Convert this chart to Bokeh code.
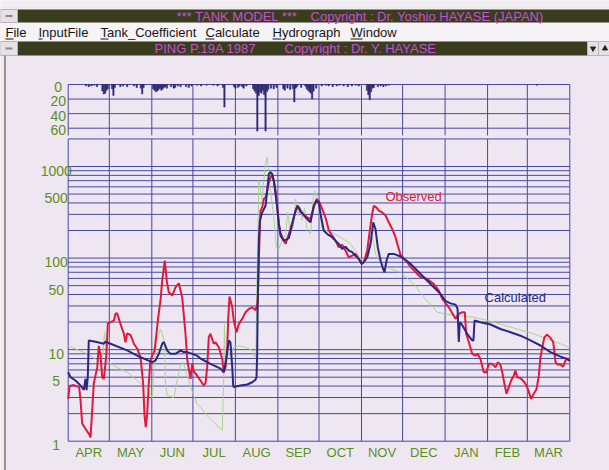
from bokeh.plotting import figure
from bokeh.models import Range1d, LinearScale
from bokeh.core.properties import value
from bokeh.embed import file_html
from bokeh.resources import INLINE

# ---------------------------------------------------------------- data
# hydrological year 1987/88, day index counted from 1 April 1987
month_names = ["APR", "MAY", "JUN", "JUL", "AUG", "SEP", "OCT", "NOV", "DEC", "JAN", "FEB", "MAR"]
month_starts = [0, 30, 61, 91, 122, 153, 183, 214, 244, 275, 306, 335, 366]

flow_ticks = [1, 5, 10, 50, 100, 500, 1000]
rain_ticks = [0, 20, 40, 60]

# daily rainfall (mm)
rain_day = [13, 15, 17, 19, 21, 25, 26, 27, 28, 29, 32, 33, 34, 38, 40, 43, 48, 50, 53, 54, 55,
            62, 63, 64, 65, 66, 67, 68, 69, 70, 71, 72, 75, 77, 78, 80, 82, 86, 88, 90, 94, 97, 101,
            106, 109, 113, 114, 121, 122, 124, 125, 127, 128, 130, 135, 136, 137, 138, 139, 140, 141,
            142, 143, 144, 145, 146, 148, 150, 152, 157, 158, 160, 162, 164, 165, 166, 167, 170, 173,
            174, 175, 176, 177, 178, 179, 181, 185, 188, 190, 193, 196, 198, 201, 204, 207, 210, 212,
            218, 219, 220, 221, 222, 223, 226, 228, 230, 232, 234, 342]
rain_mm = [2, 3, 2, 1, 3, 9, 13, 12, 8, 6, 6, 15, 4, 3, 2, 3, 2, 4, 5, 13, 4,
           6, 8, 10, 9, 7, 5, 8, 6, 4, 3, 5, 3, 5, 4, 2, 3, 3, 4, 2, 1, 2, 1,
           1, 2, 4, 31, 3, 5, 4, 2, 3, 5, 2, 6, 9, 12, 64, 15, 10, 12,
           8, 14, 64, 10, 7, 5, 6, 4, 6, 8, 5, 7, 6, 24, 5, 3, 4, 2,
           6, 8, 10, 12, 20, 9, 5, 2, 1, 2, 3, 2, 1, 2, 3, 2, 1, 2,
           8, 14, 21, 10, 5, 4, 3, 2, 3, 2, 1, 1]

# observed discharge
obs_day = [0, 1, 4, 8, 9, 10.2, 12.6, 15, 16.3, 18.7,
           21.2, 22.3, 23.6, 24.8, 26, 27.9, 28.9, 30.9, 33.3, 34.5,
           35.7, 38.2, 40.6, 41.8, 43, 45.5, 47.9, 50.3, 52.8, 54.7,
           55.7, 56.6, 57.6, 58.8, 60, 61.3, 63, 64.4, 65.7, 67.3,
           68.6, 70.5, 72, 73.4, 75.9, 78.3, 80.7, 83.2, 85.6, 86.8,
           89.2, 90.5, 91.6, 94.1, 96.5, 98.9, 100.2, 101.4, 102.6, 103.8,
           106.2, 107.5, 109.9, 112.4, 113.5, 114.8, 116, 116.7, 117.7, 119.7,
           120.8, 122.8, 124.5, 127, 129.4, 131.8, 134.3, 136.7, 138.3, 139.5,
           140.3, 141.6, 142.7, 144, 145.2, 146.4, 147.6, 148.8, 150, 151.3,
           152.5, 153.7, 154.9, 157.3, 158.6, 160.2, 162.2, 164.6, 167.1, 169.5,
           171.9, 174.4, 176.8, 179.2, 181.2, 182.9, 185.3, 187.7, 190.2, 192.6,
           195, 197.4, 199.9, 202.3, 204.7, 207.2, 209.6, 212, 214.5, 215.7,
           218.2, 220.1, 221.8, 223, 225, 226.6, 229.1, 231.5, 233.9, 236.4,
           238.8, 242.5, 246.2, 249.9, 254.7, 257.1, 262, 266.8, 270.4, 272.9,
           274.1, 277.7, 282.6, 285, 287.5, 289.4, 290.4, 292.3, 294.8, 297.2,
           298.8, 300.8, 303.2, 305.2, 306.9, 309.4, 311.8, 313.5, 315.4, 316.7,
           318.3, 319.8, 321.5, 323.2, 325.1, 326.3, 327.6, 330, 332.9, 334.9,
           337.8, 339.7, 341.7, 343.4, 344.6, 345.9, 347.5, 349.5, 351.9, 353.9,
           355.6, 357, 359.2, 361.1, 362.8, 365.2]
obs_flow = [2.9, 4.0, 4.1, 3.9, 2.8, 1.56, 1.37, 1.21, 1.1, 4.3,
            6.4, 11, 8.6, 5.0, 4.8, 9.0, 19.3, 20, 20.7, 24.7,
            25, 19, 15, 12, 15, 14.5, 11.6, 10.3, 8.25, 4.25,
            1.9, 1.42, 1.95, 4.25, 7.6, 8.6, 9.7, 15, 22.6, 34,
            56.6, 94, 55, 42.4, 39, 48, 53, 37, 14.9, 7.9,
            4.8, 7.0, 5.8, 5.2, 4.6, 4.06, 4.3, 6.4, 13.7, 14.9,
            11.6, 12, 10.6, 7.9, 5.66, 6.4, 9.8, 20.8, 38, 29,
            20.8, 15.5, 19, 21.7, 25.6, 27.8, 29, 27, 33, 150,
            330, 360, 442, 460, 545, 672, 760, 795, 700, 545,
            360, 236, 190, 155, 143, 169, 208, 279, 373, 317,
            300, 279, 267, 360, 442, 420, 345, 279, 200, 176,
            155, 131, 140, 121, 102, 106, 111, 98, 86.5, 90,
            121, 200, 303, 373, 355, 330, 315, 293, 246, 208,
            169, 108, 95, 80, 67, 62, 59, 52, 44, 36,
            34, 29, 21.7, 24.6, 25.6, 25.6, 14.9, 12.1, 9.0, 8.6,
            9.0, 7.9, 5.66, 5.66, 7.0, 7.0, 6.4, 7.3, 6.8, 5.66,
            4.23, 3.3, 3.9, 4.6, 5.2, 5.9, 5.0, 4.9, 4.4, 3.9,
            2.9, 3.3, 3.7, 5.2, 8.25, 10.6, 13.7, 14.6, 13.4, 12.1,
            7.3, 6.9, 6.9, 6.5, 7.6, 8.1]

# calculated discharge (tank model)
calc_day = [0, 1.7, 5.3, 9, 11.4, 12.6, 13.4, 14.3, 15, 19.9,
            26, 27.2, 30.9, 43, 52.8, 61.3, 63.7, 66.1, 68.6, 69.8,
            72.2, 74.6, 78.3, 82, 84.3, 86.8, 90.5, 94.1, 96.5, 103.8,
            111.2, 113.5, 115.5, 117.2, 118.4, 119.7, 120.4, 120.8, 125.7, 130.6,
            134.3, 136.7, 137.4, 137.9, 138.3, 139.1, 139.8, 141.6, 144, 145.2,
            146.4, 147.6, 148.8, 150, 151.3, 152.5, 153.7, 154.9, 157.3, 159.3,
            161, 163.5, 165.9, 167.5, 169.5, 171.9, 174.4, 176.8, 179.2, 181.2,
            182.9, 184.1, 186.5, 189, 192.6, 195, 197.4, 199.9, 202.3, 204.7,
            207.2, 209.6, 212, 214, 215.7, 218.2, 220.6, 222.6, 224.2, 225.9,
            227.9, 229.8, 230.8, 232.3, 233.9, 237.6, 242.5, 249.9, 257.1, 264.4,
            271.6, 275.3, 278.9, 282.6, 284.1, 285, 285.7, 287, 291.1, 294.8,
            295.7, 296.5, 300.8, 308.1, 315.4, 322.7, 330, 337.3, 344.6, 351.9,
            359.2, 364.1, 366]
calc_flow = [5.66, 5.0, 4.6, 4.06, 3.64, 4.8, 3.6, 5.0, 12.6, 12.2,
             11.6, 12.2, 11.6, 9.8, 8.25, 7.3, 7.6, 9.0, 11.6, 12.1,
             9.8, 9.0, 9.0, 9.8, 9.4, 9.4, 9.0, 8.6, 8.0, 7.0,
             6.2, 5.66, 8.25, 12.6, 12.0, 6.4, 4.06, 3.9, 4.06, 4.16,
             4.4, 4.7, 5.0, 9.0, 34, 150, 256, 317, 373, 545,
             828, 866, 828, 700, 500, 360, 236, 176, 155, 160,
             165, 236, 330, 373, 330, 293, 267, 246, 373, 423,
             400, 303, 200, 183, 169, 155, 143, 126, 133, 121,
             116, 106, 98, 86.5, 90, 102, 143, 246, 208, 131,
             94, 76, 70, 94, 111, 111, 104, 86.5, 67, 52,
             40.6, 34, 32, 31, 28, 12.1, 19.9, 19, 14.9, 12.6,
             12.6, 20.8, 19.9, 18.8, 16.8, 15.5, 14.2, 12.6, 11.1, 9.4,
             8.4, 7.9, 7.5]

# trial run with the initial tank coefficients
trial_day = [0, 13.9, 23.6, 25.4, 26.5, 27.6, 28.9, 35.7, 43, 50.3,
             57.6, 61.3, 63, 64.9, 67.3, 69.8, 70.5, 71, 72.2, 77.1,
             79.5, 81.9, 83.9, 85.6, 88, 90.7, 94.1, 96.5, 101.4, 106.2,
             112.4, 113.5, 114, 114.8, 116, 118.4, 120.8, 124.5, 129.4, 134.3,
             136.2, 137, 137.9, 139.1, 140.3, 141.6, 142.7, 144, 145.2, 146.4,
             147.6, 150, 152, 153.7, 156.1, 158.6, 160.2, 162.2, 164.2, 165.9,
             167.5, 169.5, 170.7, 172.4, 174.4, 176.8, 178.8, 179.7, 181.7, 183.6,
             185.3, 187.7, 192.6, 198.7, 206, 210.9, 214.5, 217, 219.3, 221.8,
             223, 224.2, 226.6, 230.3, 235.2, 242.5, 252.2, 259.5, 265.6, 269.2,
             274.1, 283.8, 296, 305.7, 315.4, 327.6, 339.7, 349.5, 359.2, 365.2]
trial_flow = [11, 9.0, 7.3, 9.0, 15.5, 10, 7.3, 6.4, 5.66, 4.6,
              3.7, 3.0, 7.9, 12.6, 16.8, 13.1, 8.6, 4.23, 3.15, 3.0,
              4.6, 6.7, 7.3, 5.9, 4.6, 3.4, 2.56, 2.35, 1.9, 1.61,
              1.31, 5.0, 19, 7.6, 9.8, 8.3, 10.6, 11, 10.6, 9.8,
              8.25, 9.0, 79, 700, 545, 442, 700, 1065, 1260, 828,
              545, 279, 131, 126, 155, 180, 317, 183, 220, 442,
              290, 360, 260, 350, 200, 183, 460, 545, 450, 303,
              208, 200, 190, 169, 143, 111, 94, 90, 111, 169,
              150, 111, 94, 83, 76, 70, 52, 37, 30, 25.6,
              24.6, 23.6, 22.6, 20.8, 19, 16.8, 14.9, 13.1, 11.6, 10.6]

menu_items = ["File", "InputFile", "Tank_Coefficient", "Calculate", "Hydrograph", "Window"]

# ---------------------------------------------------------------- layout
W, H = 609, 470
DAYS = month_starts[-1]
FRAME_L, FRAME_R = 67.7, 569.3          # screen x of day 0 / last day
px_day = (FRAME_R - FRAME_L) / DAYS
Y_ONE, Y_THOUSAND = 440.7, 166.0        # screen y of 1 and 1000 m3/s
px_dec = (Y_ONE - Y_THOUSAND) / 3.0
Y_RAIN0, Y_RAIN60 = 84.0, 127.7         # screen y of 0 and 60 mm
px_mm = (Y_RAIN60 - Y_RAIN0) / 60.0
FLOW_TOP = 2000
RAIN_BOTTOM = 70

LAVENDER = "#EEE7F1"
MENU_BG = "#F6F3F6"
BAR_BG = "#393C1D"
BAR_TXT = "#C552D0"
GRID = "#4848A6"
RAIN = "#2E2B70"
OBS = "#E2183B"
CALC = "#2A2882"
TRIAL = "#A8D58C"
TICK_GREEN = "#5C8E1C"
SANS = value("Liberation Sans")
FS = "13px"

p = figure(width=W, height=H,
           x_range=Range1d(-FRAME_L / px_day, DAYS + (W - FRAME_R) / px_day),
           y_range=Range1d(10 ** (-(H - Y_ONE) / px_dec), 10 ** (Y_ONE / px_dec)),
           y_axis_type="log", x_axis_location=None, y_axis_location=None,
           toolbar_location=None, output_backend="svg", min_border=0,
           outline_line_color=None, background_fill_color=LAVENDER,
           border_fill_color=LAVENDER)
p.grid.visible = False
p.extra_x_ranges = {"px": Range1d(0, W)}
p.extra_y_ranges = {"rain": Range1d((H - Y_RAIN0) / px_mm, -Y_RAIN0 / px_mm),
                    "px": Range1d(H, 0)}
p.extra_x_scales = {"px": LinearScale()}
p.extra_y_scales = {"rain": LinearScale(), "px": LinearScale()}
PX = dict(x_range_name="px", y_range_name="px")

# ---------------------------------------------------------------- window chrome
p.quad(left=[0], right=[W], top=[0], bottom=[9], fill_color="#F1EDF1", line_color=None, **PX)
p.quad(left=[0], right=[W], top=[22], bottom=[41], fill_color=MENU_BG, line_color=None, **PX)
p.quad(left=[17, 17], right=[W, 587], top=[9, 41], bottom=[22, 55],
       fill_color=BAR_BG, line_color=None, **PX)
p.quad(left=[0, 0, 587, 598], right=[17, 17, 598, W], top=[9, 41, 41, 41], bottom=[22, 55, 55, 55],
       fill_color="#E6E1E4", line_color="#B9B2B6", **PX)
p.segment(x0=[5, 5], y0=[15.5, 48], x1=[12, 12], y1=[15.5, 48],
          line_color="#8E868C", line_width=2, **PX)
p.scatter(x=[592.5], y=[48], marker="inverted_triangle", size=5, color="#222222", **PX)
p.scatter(x=[604.5], y=[48], marker="triangle", size=5, color="#222222", **PX)
p.segment(x0=[4.5], y0=[55], x1=[4.5], y1=[H], line_color="#9E918A", line_width=2, **PX)

p.text(x=[176], y=[15.5], text=["*** TANK MODEL ***"], text_font=SANS, text_font_size=FS,
       text_color=BAR_TXT, text_baseline="middle", **PX)
p.text(x=[543], y=[15.5], text=["Copyright : Dr. Yoshio HAYASE (JAPAN)"], text_font=SANS,
       text_font_size=FS, text_color=BAR_TXT, text_align="right", text_baseline="middle", **PX)
p.text(x=[154], y=[48], text=["PING P.19A 1987"], text_font=SANS, text_font_size=FS,
       text_color=BAR_TXT, text_baseline="middle", **PX)
p.text(x=[284], y=[48], text=["Copyright : Dr. Y. HAYASE"], text_font=SANS, text_font_size=FS,
       text_color=BAR_TXT, text_baseline="middle", **PX)

menu_x = [5, 38, 100, 205, 272, 350]
first_w = [8, 4, 8, 9, 9, 12]
p.text(x=menu_x, y=[32] * len(menu_items), text=menu_items, text_font=SANS, text_font_size="13px",
       text_color="#151515", text_baseline="middle", **PX)
p.segment(x0=menu_x, y0=[38.5] * 6, x1=[a + b for a, b in zip(menu_x, first_w)], y1=[38.5] * 6,
          line_color="#151515", line_width=1, **PX)

# ---------------------------------------------------------------- rainfall panel
p.segment(x0=[0] * len(rain_ticks), y0=rain_ticks, x1=[DAYS] * len(rain_ticks), y1=rain_ticks,
          line_color=GRID, line_width=1, y_range_name="rain")
p.segment(x0=month_starts, y0=[0] * len(month_starts), x1=month_starts,
          y1=[RAIN_BOTTOM] * len(month_starts), line_color=GRID, line_width=1, y_range_name="rain")
p.vbar(x=rain_day, width=1.0, top=[0] * len(rain_day), bottom=rain_mm,
       fill_color=RAIN, line_color=RAIN, line_width=0.5, y_range_name="rain")
p.text(x=[0] * len(rain_ticks), y=rain_ticks, text=[str(t) for t in rain_ticks],
       x_offset=-10, y_offset=2, text_font=SANS, text_font_size="14px", text_color=TICK_GREEN,
       text_align="center", text_baseline="middle", y_range_name="rain")

# ---------------------------------------------------------------- discharge panel
levels = [m * 10 ** k for k in range(3) for m in range(1, 10)] + [1000, FLOW_TOP]
p.segment(x0=[0] * len(levels), y0=levels, x1=[DAYS] * len(levels), y1=levels,
          line_color=GRID, line_width=1)
p.segment(x0=month_starts, y0=[1] * len(month_starts), x1=month_starts,
          y1=[FLOW_TOP] * len(month_starts), line_color=GRID, line_width=1)

p.line(trial_day, trial_flow, line_color=TRIAL, line_width=1)
p.line(obs_day, obs_flow, line_color=OBS, line_width=2)
p.line(calc_day, calc_flow, line_color=CALC, line_width=2)

p.text(x=[0] * len(flow_ticks), y=flow_ticks, text=[str(t) for t in flow_ticks],
       x_offset=-12, y_offset=-1, text_font=SANS, text_font_size="14px", text_color=TICK_GREEN,
       text_align="center", text_baseline="top")
mid = [(a + b) / 2 for a, b in zip(month_starts[:-1], month_starts[1:])]
p.text(x=mid, y=[1] * len(mid), text=month_names, y_offset=11, text_font=SANS,
       text_font_size=FS, text_color=TICK_GREEN, text_align="center", text_baseline="middle")

p.text(x=[231.5], y=[469], text=["Observed"], text_font=SANS, text_font_size=FS,
       text_color=OBS, text_baseline="middle")
p.text(x=[303.8], y=[37], text=["Calculated"], text_font=SANS, text_font_size=FS,
       text_color=CALC, text_baseline="middle")

open("out.html", "w").write(file_html(p, INLINE))
